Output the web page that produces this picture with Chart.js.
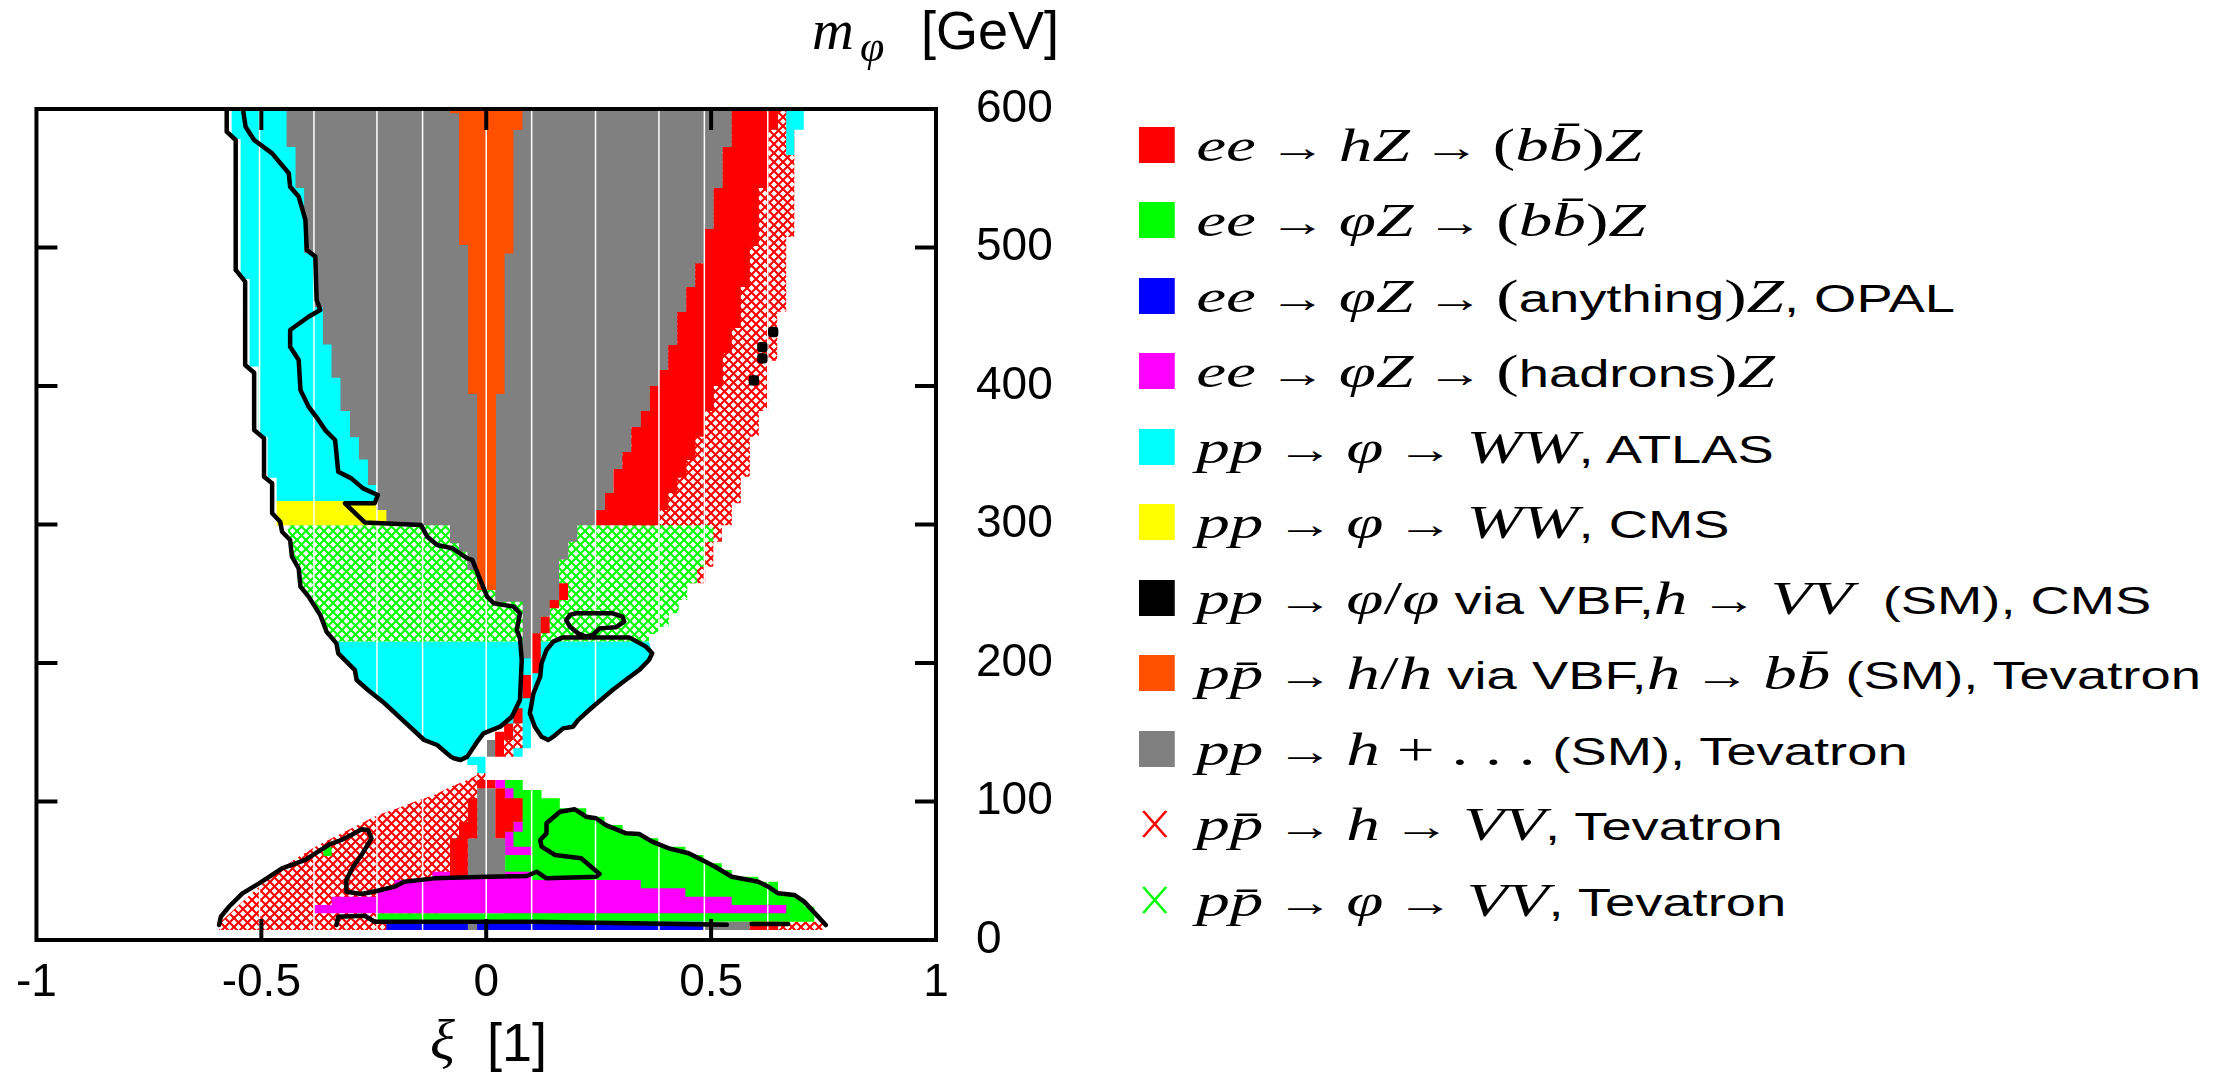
<!DOCTYPE html>
<html>
<head>
<meta charset="utf-8">
<script src="https://cdn.jsdelivr.net/npm/chart.js@4/dist/chart.umd.min.js"></script>
<style>
  body { margin: 0; background: #fff; width: 2217px; height: 1074px; overflow: hidden; position: relative; font-family: 'Liberation Sans', sans-serif; }
  #wrap { position: absolute; left: 0; top: 0; width: 1066px; height: 1074px; }
  .m { font-family: 'Liberation Serif', serif; font-style: italic; font-size: 47px; }
  .r { font-family: 'Liberation Serif', serif; font-size: 47px; }
  .a { font-family: 'Liberation Serif', serif; font-size: 40px; margin: 0 9px; }
  .s { font-size: 38px; }
  #legend { position: absolute; left: 1139px; top: 106.75px; transform: scaleX(1.43); transform-origin: 0 0; }
  .row { height: 75.5px; display: flex; align-items: center; white-space: nowrap; }
  .sw { width: 25px; height: 36px; margin-right: 15px; flex: none; }
  .xm { width: 25px; height: 36px; margin-right: 15px; flex: none; display: flex; align-items: center; }
  .ttl { position: absolute; height: 0; line-height: 0; white-space: nowrap; }
  .ttl.s { font-size: 54px; }
  .ttl.m { font-size: 58px; }
</style>
</head>
<body>
<div id="wrap"><canvas id="c"></canvas></div>

<div class="ttl m" style="left:812px; top:30px">m</div>
<div class="ttl m" style="left:860px; top:47px; font-size:44px">φ</div>
<div class="ttl s" style="left:921px; top:30px">[GeV]</div>
<div class="ttl m" style="left:430px; top:1040px">ξ</div>
<div class="ttl s" style="left:487px; top:1042px">[1]</div>

<div id="legend">
  <div class="row"><span class="sw" style="background:#ff0000"></span><span><span class="m">ee</span><span class="a">→</span><span class="m">hZ</span><span class="a">→</span><span class="r">(</span><span class="m">bb̄</span><span class="r">)</span><span class="m">Z</span></span></div>
  <div class="row"><span class="sw" style="background:#00ff00"></span><span><span class="m">ee</span><span class="a">→</span><span class="m">φZ</span><span class="a">→</span><span class="r">(</span><span class="m">bb̄</span><span class="r">)</span><span class="m">Z</span></span></div>
  <div class="row"><span class="sw" style="background:#0000ff"></span><span><span class="m">ee</span><span class="a">→</span><span class="m">φZ</span><span class="a">→</span><span class="r">(</span><span class="s">anything</span><span class="r">)</span><span class="m">Z</span><span class="s">, OPAL</span></span></div>
  <div class="row"><span class="sw" style="background:#ff00ff"></span><span><span class="m">ee</span><span class="a">→</span><span class="m">φZ</span><span class="a">→</span><span class="r">(</span><span class="s">hadrons</span><span class="r">)</span><span class="m">Z</span></span></div>
  <div class="row"><span class="sw" style="background:#00ffff"></span><span><span class="m">pp</span><span class="a">→</span><span class="m">φ</span><span class="a">→</span><span class="m">WW</span><span class="s">, ATLAS</span></span></div>
  <div class="row"><span class="sw" style="background:#ffff00"></span><span><span class="m">pp</span><span class="a">→</span><span class="m">φ</span><span class="a">→</span><span class="m">WW</span><span class="s">, CMS</span></span></div>
  <div class="row"><span class="sw" style="background:#000000"></span><span><span class="m">pp</span><span class="a">→</span><span class="m">φ</span><span class="r">/</span><span class="m">φ</span><span class="s"> via VBF,</span><span class="m">h</span><span class="a">→</span><span class="m">VV</span><span class="s">&nbsp; (SM), CMS</span></span></div>
  <div class="row"><span class="sw" style="background:#ff5000"></span><span><span class="m">pp̄</span><span class="a">→</span><span class="m">h</span><span class="r">/</span><span class="m">h</span><span class="s"> via VBF,</span><span class="m">h</span><span class="a">→</span><span class="m">bb̄</span><span class="s"> (SM), Tevatron</span></span></div>
  <div class="row"><span class="sw" style="background:#808080"></span><span><span class="m">pp</span><span class="a">→</span><span class="m">h</span><span class="r"> + . . . </span><span class="s">(SM), Tevatron</span></span></div>
  <div class="row"><span class="xm"><svg width="22" height="30"><path d="M3 2L19 28M19 2L3 28" stroke="#ff0000" stroke-width="2" fill="none"/></svg></span><span><span class="m">pp̄</span><span class="a">→</span><span class="m">h</span><span class="a">→</span><span class="m">VV</span><span class="s">, Tevatron</span></span></div>
  <div class="row"><span class="xm"><svg width="22" height="30"><path d="M3 2L19 28M19 2L3 28" stroke="#00ff00" stroke-width="2" fill="none"/></svg></span><span><span class="m">pp̄</span><span class="a">→</span><span class="m">φ</span><span class="a">→</span><span class="m">VV</span><span class="s">, Tevatron</span></span></div>
</div>

<script>
// region outlines as [xi, m_phi] pairs, cells as [xi0, xi1, m0, m1]

// shared staircase between the Tevatron SM region and ee -> hZ
const hzLeftEdge = [[0.546,600],[0.546,572.6],[0.526,572.6],[0.526,543],[0.506,543],[0.506,513.4],[0.486,513.4],[0.486,488.5],[0.465,488.5],[0.465,471.5],[0.445,471.5],[0.445,453.4],[0.425,453.4],[0.425,429.6],[0.405,429.6],[0.405,411.6],[0.384,411.6],[0.384,400],[0.364,400],[0.364,382],[0.344,382],[0.344,370.4],[0.323,370.4],[0.323,352.3],[0.303,352.3],[0.303,340],[0.283,340],[0.283,322.7],[0.264,322.7],[0.264,310.5],[0.243,310.5],[0.243,299.4]]

const grayNeck = [[0.2025,299.4],[0.2025,287.6],[0.1826,287.6],[0.1826,274.8],[0.162,274.8],[0.162,245.5],[0.1415,245.5],[0.1415,233.4],[0.1217,233.4],[0.1217,221.4],[0.102,221.4],[0.102,203.4],[0.081,203.4],[0.081,244.3],[0.02,244.3],[0.02,252.7],[-0.02,252.7],[-0.02,267.1],[-0.042,267.1],[-0.042,280.4],[-0.0606,280.4],[-0.0606,286.4],[-0.0805,286.4],[-0.0805,299.4]]
const grayLeftEdge = [[-0.222,299.4],[-0.222,310.5],[-0.243,310.5],[-0.243,328.5],[-0.263,328.5],[-0.263,347],[-0.283,347],[-0.283,363],[-0.303,363],[-0.303,382],[-0.324,382],[-0.324,406],[-0.344,406],[-0.344,430],[-0.363,430],[-0.363,457],[-0.383,457],[-0.383,496],[-0.405,496],[-0.405,543],[-0.424,543],[-0.424,572.6],[-0.444,572.6],[-0.444,600]]
const grayLower = [[-0.0202,109.5],[0.0202,109.5],[0.0202,73.4],[0.042,73.4],[0.042,45.7],[-0.041,45.7],[-0.041,73.4],[-0.0202,73.4]]
const grayCells = [[0.0,0.0198,132.4,144.4],[-0.041,-0.0202,7.2,13.2],[0.483,0.586,7.2,13.2]]

const hzRightEdge = [[0.649,600],[0.649,585],[0.627,585],[0.627,543],[0.606,543],[0.606,501],[0.586,501],[0.586,471.5],[0.566,471.5],[0.566,441.9],[0.546,441.9],[0.546,423.6],[0.526,423.6],[0.526,400],[0.506,400],[0.506,382],[0.486,382],[0.486,363.4],[0.465,363.4],[0.465,346.6],[0.445,346.6],[0.445,333.8],[0.425,333.8],[0.425,322.7],[0.405,322.7],[0.405,310.5],[0.384,310.5],[0.384,299.4]]
const hzLowerLeft = [[-0.0202,102.3],[-0.0202,73.4],[-0.041,73.4],[-0.041,45.7],[-0.0805,45.7],[-0.0805,73.4],[-0.0606,73.4],[-0.0606,85.4],[-0.041,85.4],[-0.041,102.3]]
const hzLowerRight = [[0.0202,109.5],[0.042,109.5],[0.042,102.3],[0.081,102.3],[0.081,85.4],[0.0606,85.4],[0.0606,78.2],[0.042,78.2],[0.042,73.4],[0.0202,73.4]]
const hzCells = [[-0.0202,0.0202,109.5,115.5],[0.0198,0.0397,132.4,150.4],[0.0397,0.0603,144.4,156.4],[0.0603,0.0808,156.4,167.3],[0.0808,0.1014,174.5,191.3],[0.1014,0.1213,192.6,221.4],[0.1213,0.141,221.4,233.4],[0.141,0.162,239.5,245.5],[0.162,0.182,245.5,257.5],[0.586,0.649,7.2,13.2]]

const phiBbLower = [[0.042,115.5],[0.0812,115.5],[0.0812,108.3],[0.123,108.3],[0.123,102.3],[0.1636,102.3],[0.1636,95.1],[0.2223,95.1],[0.2223,89],[0.2628,89],[0.2628,83],[0.3032,83],[0.3032,77],[0.3436,77],[0.3436,73.4],[0.3841,73.4],[0.3841,67.4],[0.4428,67.4],[0.4428,61.4],[0.4833,61.4],[0.4833,55.4],[0.5237,55.4],[0.5237,50.5],[0.5458,50.5],[0.5458,45.7],[0.6046,45.7],[0.6046,42.1],[0.6487,42.1],[0.6487,33.7],[0.6854,33.7],[0.6854,30],[0.7074,30],[0.7074,24],[0.7295,24],[0.7295,13.2],[-0.2444,13.2],[-0.2444,19.3],[0.042,19.3]]
const phiBbCells = [[-0.362,-0.3436,60.6,66.9]]

const opal = [[-0.222,0.483,7.2,13.2]]

const hadrons = [[-0.1195,49.3],[0.1,49.3],[0.1,43.3],[0.3436,43.3],[0.3436,37.3],[0.4428,37.3],[0.4428,31.3],[0.5458,31.3],[0.5458,25.3],[0.667,25.3],[0.667,19.3],[-0.382,19.3],[-0.382,25.3],[-0.3436,25.3],[-0.3436,31.3],[-0.242,31.3],[-0.242,37.3],[-0.204,37.3],[-0.204,43.3],[-0.1195,43.3]]
const hadronCells = [[0.0202,0.042,109.5,115.5],[0.042,0.0606,102.3,109.5],[0.0606,0.081,78.2,85.4],[0.042,0.0606,67.4,78.2],[0.042,0.101,61.4,67.4]]

const atlasLeft = [[-0.566,600],[-0.2,600],[-0.2,317],[-0.466,317],[-0.466,333.8],[-0.486,333.8],[-0.486,363.4],[-0.506,363.4],[-0.506,414],[-0.526,414],[-0.526,477.3],[-0.546,477.3],[-0.546,578.3],[-0.566,578.3]]
const atlasTopRight = [[0.667,600],[0.706,600],[0.706,585],[0.685,585],[0.685,566.8],[0.667,566.8]]
const atlasLower = [[-0.333,215.4],[0.362,215.4],[0.369,207],[0.362,202.2],[0.34,194.9],[0.31,187.7],[0.281,180.5],[0.237,168.4],[0.204,158.8],[0.193,154],[0.171,152.8],[0.149,146.8],[0.138,144.4],[0.123,146.8],[0.108,154],[0.101,156.4],[0.101,138.4],[0.081,138.4],[0.081,132.4],[0.06,132.4],[0.06,156.4],[0.031,154],[-0.006,149.2],[-0.02,143.2],[-0.042,132.4],[-0.057,130],[-0.072,131.2],[-0.079,132.4],[-0.108,140.8],[-0.138,144.4],[-0.226,170.9],[-0.263,180.5],[-0.288,187.7],[-0.292,194.9],[-0.329,207],[-0.332,214.2]]
const atlasTip = [[-0.042,132.4],[0.0,132.4],[0.0,120.4],[-0.02,120.4],[-0.02,126.4],[-0.042,126.4]]

const cmsWW = [[-0.466,-0.2,299.4,317]]

const vbfBb = [[-0.0805,600],[0.0805,600],[0.0805,584.8],[0.0606,584.8],[0.0606,495.6],[0.0408,495.6],[0.0408,394.2],[0.0217,394.2],[0.0217,252.7],[-0.0202,252.7],[-0.0202,394.2],[-0.0401,394.2],[-0.0401,501.8],[-0.0606,501.8],[-0.0606,597],[-0.0805,597]]

const hVVUpper = [[0.3,600],[0.685,600],[0.685,507.8],[0.667,507.8],[0.667,453.7],[0.647,453.7],[0.647,418.3],[0.627,418.3],[0.627,382],[0.606,382],[0.606,363.4],[0.586,363.4],[0.586,334.5],[0.566,334.5],[0.566,315.3],[0.546,315.3],[0.546,299.4],[0.524,299.4],[0.524,287.6],[0.505,287.6],[0.505,269.5],[0.487,269.5],[0.487,257.5],[0.3,257.5]]
const hVVLower = [[-0.594,7.2],[-0.594,10],[-0.586,14.4],[-0.55,25.3],[-0.505,38.5],[-0.461,50.5],[-0.417,60.1],[-0.373,68.6],[-0.329,75.8],[-0.285,83],[-0.241,90.3],[-0.197,95.1],[-0.16,99.9],[-0.116,104.7],[-0.079,110.7],[-0.042,115.5],[-0.02,119.1],[-0.02,122.7],[0.0,122.7],[0.0,45],[-0.1,45],[-0.1,7.2]]
const hVVCells = [[0.649,0.748,7.2,13.2]]
const hVVNeck = [[0.0397,0.0603,132.4,144.4],[0.0603,0.0808,138.4,156.4]]

const phiVV = [[-0.444,299.4],[0.505,299.4],[0.505,287.6],[0.487,287.6],[0.487,269.5],[0.469,269.5],[0.469,257.5],[0.447,257.5],[0.447,245.5],[0.428,245.5],[0.428,235.9],[0.406,235.9],[0.406,226.2],[0.384,226.2],[0.384,221],[0.362,221],[0.362,215.4],[-0.333,215.4],[-0.355,222.6],[-0.369,234.7],[-0.395,247.9],[-0.413,255.1],[-0.417,268.4],[-0.432,276.8],[-0.436,288.8]]

const vbfVV = [[0.638,439],[0.614,428],[0.614,420],[0.595,404]]

// combined limit contours
const contourOuter = [[-0.577,600],[-0.577,583.6],[-0.557,577.6],[-0.557,483.8],[-0.536,475.3],[-0.536,415.2],[-0.516,409.6],[-0.516,368.2],[-0.494,362.2],[-0.494,334.5],[-0.476,329.7],[-0.476,308.1],[-0.458,302],[-0.454,294.8],[-0.436,288.8],[-0.432,276.8],[-0.417,268.4],[-0.413,255.1],[-0.395,247.9],[-0.369,234.7],[-0.355,222.6],[-0.333,214.2],[-0.329,207],[-0.292,194.9],[-0.288,187.7],[-0.263,180.5],[-0.226,170.9],[-0.138,144.4],[-0.109,140.8],[-0.079,132.4],[-0.072,131.2],[-0.057,130],[-0.042,132.4],[-0.02,143.2],[-0.006,149.2],[0.031,154],[0.057,161.2],[0.075,173.3],[0.079,202.2],[0.075,217.8],[0.068,223.8],[0.075,235.9],[0.061,240.7],[0.017,243.1],[0.002,247.9],[-0.013,259.9],[-0.031,274.4],[-0.042,275.6],[-0.075,282.8],[-0.109,285.2],[-0.131,291.2],[-0.145,299.6],[-0.27,301.5],[-0.314,315.3],[-0.248,315.3],[-0.241,321.3],[-0.274,326.1],[-0.3,333.3],[-0.329,338.1],[-0.336,361],[-0.358,368.2],[-0.373,375.5],[-0.395,385.1],[-0.413,397.1],[-0.417,418.8],[-0.436,428.4],[-0.436,440.4],[-0.395,450],[-0.369,454.9],[-0.377,462.1],[-0.38,493.4],[-0.399,498.2],[-0.402,519.9],[-0.417,536.8],[-0.436,543.9],[-0.439,553.6],[-0.476,568],[-0.516,577.6],[-0.535,587.2],[-0.541,600]]
const contourLobe = [[0.097,163.7],[0.105,178.1],[0.12,190.1],[0.123,199.8],[0.134,209.4],[0.149,215.4],[0.171,218.5],[0.318,218.5],[0.355,211.8],[0.369,207],[0.362,202.2],[0.34,194.9],[0.31,187.7],[0.281,180.5],[0.237,168.4],[0.204,158.8],[0.193,154],[0.171,152.8],[0.149,146.8],[0.138,144.4],[0.123,146.8],[0.108,154],[0.097,163.7]]
const contourLoop = [[0.2,235.9],[0.186,234.7],[0.178,231],[0.186,226.2],[0.204,221.4],[0.222,219],[0.237,220.2],[0.252,225],[0.288,225.8],[0.307,229.8],[0.303,233.4],[0.281,235.9],[0.2,235.9]]
const contourLow = [[-0.594,10.8],[-0.59,16.8],[-0.572,24],[-0.542,33.7],[-0.505,40.9],[-0.454,51.8],[-0.402,57.8],[-0.38,62.6],[-0.347,69.3],[-0.322,72.2],[-0.3,75.8],[-0.277,79.9],[-0.263,79.4],[-0.255,73.4],[-0.277,61.4],[-0.296,52.9],[-0.311,43.3],[-0.311,34.9],[-0.277,33.2],[-0.241,35.6],[-0.204,38.5],[-0.182,42.1],[-0.116,44.5],[0.002,45.7],[0.09,46.2],[0.112,49.3],[0.134,44.5],[0.244,45.7],[0.252,47.7],[0.211,59],[0.153,61.4],[0.123,67.4],[0.12,72.2],[0.134,77],[0.134,84.3],[0.164,92.6],[0.197,94.4],[0.222,89],[0.244,87.9],[0.266,83],[0.311,77],[0.34,76.5],[0.369,71],[0.406,66.2],[0.45,62.6],[0.48,57.8],[0.509,52.9],[0.546,45.7],[0.605,42.1],[0.627,38.5],[0.649,33.7],[0.685,32.5],[0.707,27.7],[0.755,10.8]]
const contourBottomA = [[-0.333,10.8],[-0.329,16.8],[-0.27,17.5],[-0.248,13.2],[0.105,13.2],[0.535,11]]
const contourBottomB = [[0.59,11.5],[0.671,11.5]]

// vertical seams of the rendered tiles
const seams = [-0.504, -0.383, -0.243, -0.1415, 0, 0.101, 0.243, 0.384, 0.485, 0.626]

const xTicks = [-1, -0.5, 0, 0.5, 1]
const yTicks = [0, 100, 200, 300, 400, 500, 600]

// helpers
const box = ([x0, x1, y0, y1]) => [[x0, y0], [x1, y0], [x1, y1], [x0, y1]]
const join = (...polys) => polys.flatMap((p, i) => {
  const pts = p.map(([x, y]) => ({ x, y }))
  return i ? [{ x: null, y: null }, ...pts] : pts
})

function hatch (color) {
  const c = document.createElement('canvas')
  c.width = 9; c.height = 9
  const g = c.getContext('2d')
  g.fillStyle = '#fff'
  g.fillRect(0, 0, 9, 9)
  g.strokeStyle = color
  g.lineWidth = 2.1
  g.beginPath()
  g.moveTo(-1, -1); g.lineTo(10, 10)
  g.moveTo(10, -1); g.lineTo(-1, 10)
  g.stroke()
  return g.createPattern(c, 'repeat')
}

const area = (data, color) => ({ data, backgroundColor: color, borderWidth: 0, fill: 'shape', pointRadius: 0, spanGaps: false })

const grayUpper = [[-0.444, 600], ...hzLeftEdge, ...grayNeck, ...grayLeftEdge]
const hzUpper = [...hzRightEdge, ...hzLeftEdge.slice().reverse()]

// bottom layer first
const layers = [
  area(join(hVVUpper, hVVLower, ...hVVCells.map(box)), hatch('#ff0000')),
  area(join(phiVV), hatch('#00ff00')),
  area(join(atlasLeft, atlasTopRight, atlasLower, atlasTip), '#00ffff'),
  area(join(...cmsWW.map(box)), '#ffff00'),
  area(join(phiBbLower, ...phiBbCells.map(box)), '#00ff00'),
  area(join(hadrons, ...hadronCells.map(box)), '#ff00ff'),
  area(join(...opal.map(box)), '#0000ff'),
  area(join(grayUpper, grayLower, ...grayCells.map(box)), '#808080'),
  area(join(vbfBb), '#ff5000'),
  area(join(hzUpper, hzLowerLeft, hzLowerRight, ...hzCells.map(box)), '#ff0000'),
  area(join(...hVVNeck.map(box)), hatch('#ff0000')),
  { data: join(...seams.map(s => [[s, 0], [s, 600]])), borderColor: '#ffffff', borderWidth: 1.5, fill: false, pointRadius: 0 },
  { data: join(contourOuter, contourLobe, contourLoop, contourLow, contourBottomA, contourBottomB), borderColor: '#000', borderWidth: 4.5, borderJoinStyle: 'round', borderCapStyle: 'round', fill: false, pointRadius: 0 },
  { data: join(vbfVV), showLine: false, pointRadius: 6, pointStyle: 'rectRounded', backgroundColor: '#000', borderWidth: 0 }
]
layers.forEach((d, i) => { d.order = layers.length - i })

// box around the plot with inward ticks on all four sides
const frame = {
  id: 'frame',
  afterDraw (chart) {
    const { ctx, chartArea: a, scales: { x, y } } = chart
    ctx.save()
    ctx.strokeStyle = '#000'
    ctx.lineWidth = 4
    ctx.beginPath()
    xTicks.slice(1, -1).forEach(v => {
      const p = x.getPixelForValue(v)
      ctx.moveTo(p, a.bottom); ctx.lineTo(p, a.bottom - 21)
      ctx.moveTo(p, a.top); ctx.lineTo(p, a.top + 21)
    })
    yTicks.slice(1, -1).forEach(v => {
      const p = y.getPixelForValue(v)
      ctx.moveTo(a.left, p); ctx.lineTo(a.left + 21, p)
      ctx.moveTo(a.right, p); ctx.lineTo(a.right - 21, p)
    })
    ctx.stroke()
    ctx.strokeRect(a.left, a.top, a.right - a.left, a.bottom - a.top)
    ctx.restore()
  }
}

Chart.defaults.font.family = "'Liberation Sans', sans-serif"
Chart.defaults.color = '#000'

new Chart(document.getElementById('c'), {
  type: 'line',
  data: { datasets: layers },
  options: {
    responsive: true,
    maintainAspectRatio: false,
    animation: false,
    layout: { padding: { left: 29, top: 109, right: 0, bottom: 0 } },
    plugins: { legend: { display: false }, tooltip: { enabled: false } },
    elements: { line: { tension: 0 } },
    scales: {
      x: {
        type: 'linear',
        min: -1,
        max: 1,
        grid: { display: false, drawTicks: false },
        border: { display: false },
        afterBuildTicks: s => { s.ticks = xTicks.map(v => ({ value: v })) },
        ticks: { font: { size: 46 }, padding: 16, maxRotation: 0, callback: v => String(v) },
        afterFit: s => { s.height = 134 }
      },
      y: {
        type: 'linear',
        position: 'right',
        min: 0,
        max: 600,
        grid: { display: false, drawTicks: false },
        border: { display: false },
        afterBuildTicks: s => { s.ticks = yTicks.map(v => ({ value: v })) },
        ticks: { font: { size: 46 }, padding: 40, callback: v => String(v) },
        afterFit: s => { s.width = 130 }
      }
    }
  },
  plugins: [frame]
})
</script>
</body>
</html>
